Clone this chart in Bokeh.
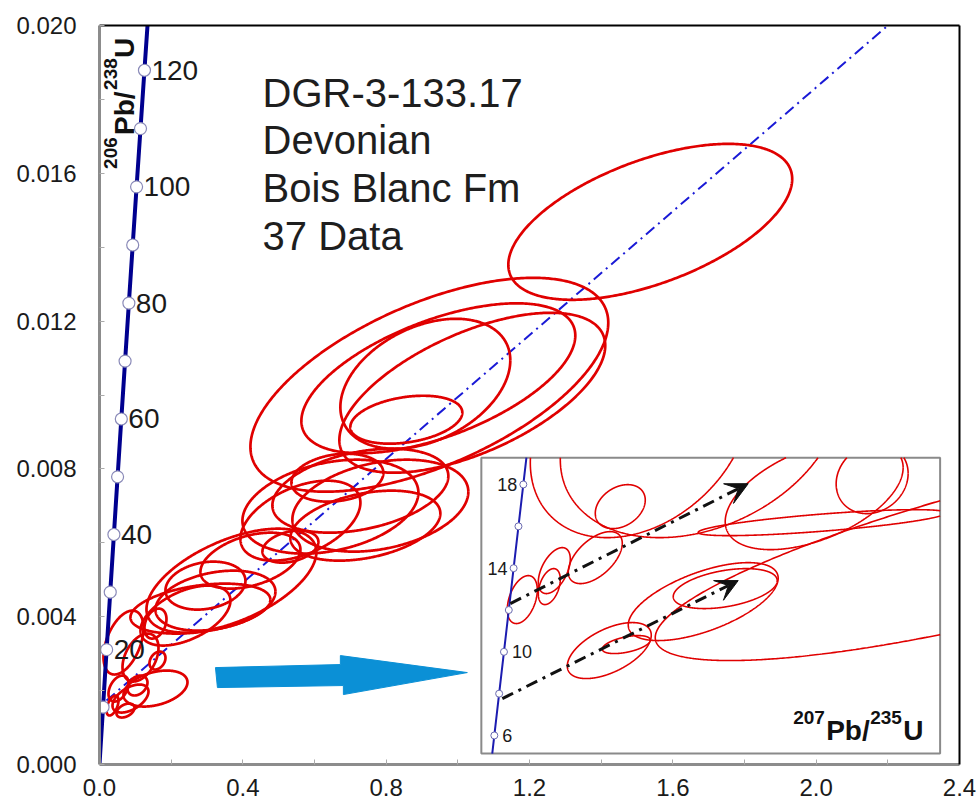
import numpy as np
from bokeh.plotting import figure
from bokeh.models import (Range1d, LinearAxis, FixedTicker, PrintfTickFormatter,
                          ColumnDataSource, Arrow, VeeHead)
from bokeh.core.properties import value
from bokeh.embed import file_html
from bokeh.resources import INLINE

# ---------------- data ----------------
# Concordia (main panel): age in Ma, 207Pb/235U, 206Pb/238U
CONC_AGE_MA = [0, 10, 20, 30, 40, 50, 60, 70, 80, 90, 100, 110, 120, 130]
CONC_PB207_U235 = [0.0, 0.009897, 0.019892, 0.029986, 0.040180, 0.050475, 0.060872,
                   0.071371, 0.081975, 0.092683, 0.103498, 0.114419, 0.125449, 0.136588]
CONC_PB206_U238 = [0.0, 0.0015525, 0.0031073, 0.0046646, 0.0062243, 0.0077864, 0.0093509,
                   0.0109179, 0.0124873, 0.0140592, 0.0156334, 0.0172102, 0.0187893, 0.0203709]
CONC_LABEL_AGES = [20, 40, 60, 80, 100, 120]

# Concordia (inset)
INSET_AGE_MA = [4, 6, 8, 10, 12, 14, 16, 18, 20]
INSET_PB207_U235 = [0.0039472, 0.0059266, 0.0079099, 0.0098972, 0.0118883,
                    0.0138834, 0.0158824, 0.0178854, 0.0198920]
INSET_PB206_U238 = [0.0006207, 0.0009312, 0.0012418, 0.0015525, 0.0018632,
                    0.0021741, 0.0024851, 0.0027962, 0.0031073]
INSET_LABELS_LEFT = [18, 14]
INSET_LABELS_RIGHT = [10, 6]

# Error ellipses, main panel: centre, half extents and error correlation
PB207_U235 = [1.5370, 0.9205, 0.9456, 1.0404, 0.9093, 0.8563, 0.7838, 0.7280, 0.6444, 0.6639,
              0.5328, 0.3682, 0.3236, 0.2957, 0.2817, 0.2399, 0.0669, 0.1562, 0.1562, 0.0865,
              0.1060, 0.1618, 0.0530, 0.0363, 0.0725, 0.1144, 0.7420, 0.5607, 0.4212]
PB206_U238 = [0.014686, 0.010277, 0.010453, 0.010061, 0.010304, 0.009331, 0.007005, 0.007410,
              0.006978, 0.007762, 0.005896, 0.004976, 0.004435, 0.004841, 0.004219, 0.004030,
              0.003300, 0.003813, 0.002055, 0.001785, 0.002137, 0.002813, 0.002055, 0.001596,
              0.001460, 0.002894, 0.006464, 0.006599, 0.005517]
ERR_207_235 = [0.3961, 0.4993, 0.3822, 0.3710, 0.2371, 0.1562, 0.2455, 0.2455, 0.2455, 0.1283,
               0.0781, 0.2371, 0.1674, 0.1116, 0.1953, 0.1255, 0.0558, 0.0307, 0.0893, 0.0502,
               0.0279, 0.0223, 0.0279, 0.0167, 0.0251, 0.0502, 0.2092, 0.1674, 0.1395]
ERR_206_238 = [0.002110, 0.002894, 0.002028, 0.002164, 0.001758, 0.000649, 0.001244, 0.001136,
               0.001271, 0.000649, 0.000433, 0.001406, 0.000811, 0.000649, 0.000676, 0.000811,
               0.000865, 0.000406, 0.000487, 0.000379, 0.000270, 0.000243, 0.000352, 0.000270,
               0.000189, 0.000649, 0.000947, 0.001082, 0.000757]
ERR_RHO = [0.55, 0.58, 0.57, 0.59, 0.36, 0.30, 0.30, 0.35, 0.30, 0.20, 0.30, 0.55, 0.30, 0.20,
           0.35, 0.50, 0.45, 0.30, 0.35, 0.50, 0.30, 0.30, 0.40, 0.50, 0.40, 0.40, 0.35, 0.45, 0.40]

# Error ellipses, inset
INSET_207_235 = [0.017473, 0.028607, 0.030669, 0.047576, 0.057886, 0.066133, 0.090875, 0.137886,
                 0.161803, 0.141185, 0.053350, 0.060360, 0.092112, 0.226958, 0.101185]
INSET_206_238 = [0.0019407, 0.0020373, 0.0021561, 0.0022526, 0.0026314, 0.0031958, 0.0032181,
                 0.0027205, 0.0028393, 0.0025125, 0.0015620, 0.0016065, 0.0019258, 0.0023418,
                 0.0020224]
INSET_ERR_207 = [0.006186, 0.004536, 0.006598, 0.011134, 0.010309, 0.045361, 0.057732, 0.036701,
                 0.014845, 0.051134, 0.017320, 0.009897, 0.030928, 0.154639, 0.021443]
INSET_ERR_206 = [0.0001782, 0.0001337, 0.0001708, 0.0001931, 0.0001634, 0.0007947, 0.0008169,
                 0.0004085, 0.0002599, 0.0000965, 0.0002080, 0.0000668, 0.0002896, 0.0008541,
                 0.0001485]
INSET_RHO = [0.40, 0.40, 0.50, 0.55, 0.30, 0.30, 0.29, 0.49, 0.15, 0.75, 0.55, 0.50, 0.60, 0.80, 0.40]

# Reference (discordia) line, main panel
REF_LINE_X = [0.0195, 2.2]
REF_LINE_Y = [0.00173, 0.0200]

# Inset trend arrows (x0, y0, x1, y1) in inset units
INSET_TRENDS = [(0.012525, 0.001911, 0.110670, 0.002802),
                (0.009226, 0.001205, 0.106546, 0.002082)]

TITLE_LINES = ["DGR-3-133.17", "Devonian", "Bois Blanc Fm", "37 Data"]
X_TICKS = [0.0, 0.4, 0.8, 1.2, 1.6, 2.0, 2.4]
X_MINOR = [0.2, 0.6, 1.0, 1.4, 1.8, 2.2]
Y_TICKS = [0.0, 0.004, 0.008, 0.012, 0.016, 0.020]
Y_MINOR = [0.002, 0.006, 0.010, 0.014, 0.018]

# ---------------- layout / style ----------------
FONT = value("Liberation Sans")
RED = "#e00000"
X_RANGE = (0.0, 2.4)
Y_RANGE = (0.0, 0.02)
INSET_XLIM = (0.000566, 0.189845)
INSET_YLIM = (0.000797, 0.002995)
INSET_BOX_X = (1.0656, 2.3459)   # placement of the inset inside main axes
INSET_BOX_Y = (0.000297, 0.008303)


def outline(cx, cy, sx, sy, r, n=500):
    t = np.linspace(0, 2 * np.pi, n)
    x = cx + sx * np.cos(t)
    y = cy + sy * (r * np.cos(t) + np.sqrt(1 - r * r) * np.sin(t))
    return x, y


def clip(xs, ys, x0, x1, y0, y1):
    pieces, cx, cy = [], None, None
    for i in range(len(xs) - 1):
        ax, ay, bx, by = xs[i], ys[i], xs[i + 1], ys[i + 1]
        dx, dy = bx - ax, by - ay
        t0, t1, ok = 0.0, 1.0, True
        for pp, qq in ((-dx, ax - x0), (dx, x1 - ax), (-dy, ay - y0), (dy, y1 - ay)):
            if pp == 0:
                if qq < 0:
                    ok = False
                    break
            else:
                r = qq / pp
                if pp < 0:
                    if r > t1:
                        ok = False
                        break
                    t0 = max(t0, r)
                else:
                    if r < t0:
                        ok = False
                        break
                    t1 = min(t1, r)
        if not ok:
            if cx:
                pieces.append((cx, cy))
                cx = None
            continue
        if cx is None or t0 > 0:
            if cx:
                pieces.append((cx, cy))
            cx, cy = [ax + t0 * dx], [ay + t0 * dy]
        cx.append(ax + t1 * dx)
        cy.append(ay + t1 * dy)
        if t1 < 1:
            pieces.append((cx, cy))
            cx = None
    if cx:
        pieces.append((cx, cy))
    return pieces


p = figure(width=979, height=806, x_range=Range1d(*X_RANGE), y_range=Range1d(*Y_RANGE),
           output_backend="svg", toolbar_location=None,
           min_border_left=99, min_border_right=20, min_border_top=25, min_border_bottom=42,
           background_fill_color="white", border_fill_color="white", outline_line_color=None)
p.xgrid.visible = False
p.ygrid.visible = False

# inset ranges mapped onto the main frame
kx = (INSET_XLIM[1] - INSET_XLIM[0]) / (INSET_BOX_X[1] - INSET_BOX_X[0])
ky = (INSET_YLIM[1] - INSET_YLIM[0]) / (INSET_BOX_Y[1] - INSET_BOX_Y[0])
p.extra_x_ranges = {"ix": Range1d(INSET_XLIM[0] - (INSET_BOX_X[0] - X_RANGE[0]) * kx,
                                  INSET_XLIM[0] + (X_RANGE[1] - INSET_BOX_X[0]) * kx)}
p.extra_y_ranges = {"iy": Range1d(INSET_YLIM[0] - (INSET_BOX_Y[0] - Y_RANGE[0]) * ky,
                                  INSET_YLIM[0] + (Y_RANGE[1] - INSET_BOX_Y[0]) * ky)}

# axes
xa = p.xaxis[0]
xa.ticker = FixedTicker(ticks=X_TICKS, minor_ticks=X_MINOR)
xa.formatter = PrintfTickFormatter(format="%.1f")
xa.major_label_standoff = 14
ya = p.yaxis[0]
ya.ticker = FixedTicker(ticks=Y_TICKS, minor_ticks=Y_MINOR)
ya.formatter = PrintfTickFormatter(format="%.3f")
ya.major_label_standoff = 23
for ax in (xa, ya):
    ax.axis_line_color = "#8c8c8c"
    ax.axis_line_width = 3
    ax.major_tick_in = 5
    ax.major_tick_out = 0
    ax.minor_tick_in = 5
    ax.minor_tick_out = 0
    ax.major_tick_line_color = "#aaaaaa"
    ax.minor_tick_line_color = "#aaaaaa"
    ax.major_label_text_font = "Liberation Sans"
    ax.major_label_text_font_size = "24px"
    ax.major_label_text_color = "#1a1a1a"
for loc in ("above", "right"):
    ex = LinearAxis(ticker=FixedTicker(ticks=[]), major_label_text_font_size="0px",
                    axis_line_color="black", axis_line_width=2,
                    major_tick_line_color=None, minor_tick_line_color=None,
                    major_label_standoff=0)
    p.add_layout(ex, loc)

# reference dash-dot line
p.line(REF_LINE_X, REF_LINE_Y, line_color="#1a1ad6", line_width=2, line_dash="11 5 2 5")

# main ellipses
mxs, mys = [], []
for cx, cy, sx, sy, r in zip(PB207_U235, PB206_U238, ERR_207_235, ERR_206_238, ERR_RHO):
    x, y = outline(cx, cy, sx, sy, r)
    mxs.append(list(x))
    mys.append(list(y))
p.multi_line(mxs, mys, line_color=RED, line_width=2.7, line_join="round")

# main concordia
p.line(CONC_PB207_U235, CONC_PB206_U238, line_color="#00008f", line_width=4)
mk = [i for i, a in enumerate(CONC_AGE_MA) if 0 < a <= 120]
p.scatter([CONC_PB207_U235[i] for i in mk], [CONC_PB206_U238[i] for i in mk], size=12,
          marker="circle", fill_color="white", line_color="#8a8ab8", line_width=1.2)
lab = ColumnDataSource(dict(
    x=[CONC_PB207_U235[CONC_AGE_MA.index(a)] for a in CONC_LABEL_AGES],
    y=[CONC_PB206_U238[CONC_AGE_MA.index(a)] for a in CONC_LABEL_AGES],
    t=[str(a) for a in CONC_LABEL_AGES]))
p.text(x="x", y="y", text="t", source=lab, x_offset=7, text_baseline="middle",
       text_align="left", text_font=FONT, text_font_size="28px", text_color="#1a1a1a")

# y axis title (rotated, inside the frame)
for txt, x, y, fs in (("206", 0.0307, 0.016119, "19px"), ("Pb/", 0.0697, 0.017038, "28px"),
                      ("238", 0.0307, 0.018256, "19px"), ("U", 0.0697, 0.019121, "28px")):
    p.text(x=[x], y=[y], text=[txt], angle=np.pi / 2, text_align="left",
           text_baseline="alphabetic", text_font=FONT, text_font_style="bold",
           text_font_size=fs, text_color="#111111")

# sample description
p.text(x=[0.455] * 4, y=[0.018174, 0.016903, 0.015605, 0.014307], text=TITLE_LINES,
       text_align="left", text_baseline="alphabetic", text_font=FONT,
       text_font_size="40px", text_color="#1e1e1e")

# blue block arrow pointing to the inset
p.patch([0.3236, 0.6722, 0.6722, 1.0265, 0.6806, 0.6806, 0.3291],
        [0.002623, 0.002705, 0.002948, 0.002488, 0.001893, 0.002137, 0.002082],
        fill_color="#0b90d6", line_color="#0b90d6", line_width=1)

# ---------------- inset ----------------
p.quad(left=[INSET_XLIM[0]], right=[INSET_XLIM[1]], bottom=[INSET_YLIM[0]], top=[INSET_YLIM[1]],
       x_range_name="ix", y_range_name="iy", fill_color="white",
       line_color="#8a8a8a", line_width=2)

ixs, iys = [], []
for cx, cy, sx, sy, r in zip(INSET_207_235, INSET_206_238, INSET_ERR_207, INSET_ERR_206, INSET_RHO):
    x, y = outline(cx, cy, sx, sy, r, n=900)
    for px, py in clip(list(x), list(y), *INSET_XLIM, *INSET_YLIM):
        ixs.append(px)
        iys.append(py)
p.multi_line(ixs, iys, x_range_name="ix", y_range_name="iy", line_color=RED, line_width=1.6)

cxs, cys = [], []
for px, py in clip(INSET_PB207_U235, INSET_PB206_U238, *INSET_XLIM, *INSET_YLIM):
    cxs.append(px)
    cys.append(py)
p.multi_line(cxs, cys, x_range_name="ix", y_range_name="iy", line_color="#1c1cb0", line_width=2)
inside = [i for i in range(len(INSET_AGE_MA))
          if INSET_XLIM[0] < INSET_PB207_U235[i] < INSET_XLIM[1]
          and INSET_YLIM[0] < INSET_PB206_U238[i] < INSET_YLIM[1]]
p.scatter([INSET_PB207_U235[i] for i in inside], [INSET_PB206_U238[i] for i in inside],
          x_range_name="ix", y_range_name="iy", size=7, marker="circle",
          fill_color="white", line_color="#6a6ab0", line_width=1)
for ages, align, off in ((INSET_LABELS_LEFT, "right", -6), (INSET_LABELS_RIGHT, "left", 8)):
    src = ColumnDataSource(dict(
        x=[INSET_PB207_U235[INSET_AGE_MA.index(a)] for a in ages],
        y=[INSET_PB206_U238[INSET_AGE_MA.index(a)] for a in ages],
        t=[str(a) for a in ages]))
    p.text(x="x", y="y", text="t", source=src, x_range_name="ix", y_range_name="iy",
           x_offset=off, text_align=align, text_baseline="middle", text_font=FONT,
           text_font_size="18px", text_color="#1a1a1a")

for x0, y0, x1, y1 in INSET_TRENDS:
    p.add_layout(Arrow(end=VeeHead(size=22, fill_color="#111111", line_color="#111111"),
                       x_start=x0, y_start=y0, x_end=x1, y_end=y1,
                       x_range_name="ix", y_range_name="iy",
                       line_color="#111111", line_width=3, line_dash="12 6 3 6"))

# x axis title inside the inset
for txt, x, y, fs in (("207", 1.9358, 0.001271, "19px"), ("Pb/", 2.0279, 0.000920, "28px"),
                      ("235", 2.1506, 0.001271, "19px"), ("U", 2.2427, 0.000920, "28px")):
    p.text(x=[x], y=[y], text=[txt], text_align="left", text_baseline="alphabetic",
           text_font=FONT, text_font_style="bold", text_font_size=fs, text_color="#111111")

open("out.html", "w").write(file_html(p, INLINE))
